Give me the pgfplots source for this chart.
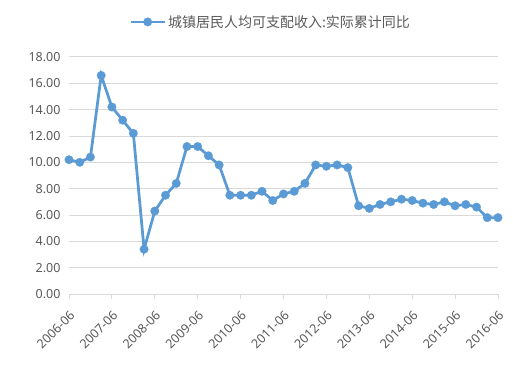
\documentclass[border=0pt]{standalone}
\usepackage{fontspec}
\setmainfont{Noto Sans}
\newfontfamily\cjk{Noto Sans CJK SC}
\usepackage{pgfplots}
\pgfplotsset{compat=1.18}
\definecolor{lineblue}{HTML}{5B9BD5}
\definecolor{txt}{HTML}{595959}
\definecolor{gridc}{HTML}{D9D9D9}
\begin{document}
\begin{tikzpicture}[x=1pt,y=1pt]
\path[use as bounding box] (-69,-73) rectangle (444,294);
\begin{axis}[at={(0,0)}, anchor=south west, scale only axis,
  width=429pt, height=237pt,
  xmin=0, xmax=40, ymin=0, ymax=18, clip=false,
  axis x line*=bottom, axis y line*=left,
  y axis line style={draw=none},
  x axis line style={draw=gridc, line width=1pt, -},
  xtick={0,4,...,40},
  xticklabels={2006-06,2007-06,2008-06,2009-06,2010-06,2011-06,2012-06,2013-06,2014-06,2015-06,2016-06},
  ytick={0,2,...,18},
  ymajorgrids, grid style={draw=gridc, line width=1pt},
  tick align=outside, major tick length=5pt,
  xtick style={draw=gridc, line width=1pt},
  ytick style={draw=none},
  /pgf/number format/assume math mode=true,
  yticklabel style={/pgf/number format/.cd, fixed, fixed zerofill, precision=2},
  ticklabel style={font=\fontsize{12.5}{14}\selectfont, text=txt},
  xticklabel style={rotate=45, anchor=north east},
  xticklabel shift=6pt,
  legend style={at={(0.47,1.148)}, anchor=center, draw=none, fill=none,
    font=\cjk\fontsize{14}{16}\selectfont, text=txt},
  legend image code/.code={\draw[mark repeat=2,mark phase=2] plot coordinates {(0pt,0pt) (17pt,0pt) (34pt,0pt)};},
]
\addplot[color=lineblue, line width=2.75pt, mark=*, mark size=4.3pt, mark options={solid, fill=lineblue, draw=lineblue, line width=0.2pt}]
coordinates {
(0,10.2) (1,10.0) (2,10.4) (3,16.6) (4,14.2) (5,13.2) (6,12.2) (7,3.4) (8,6.3) (9,7.5)
(10,8.4) (11,11.2) (12,11.2) (13,10.5) (14,9.8) (15,7.5) (16,7.5) (17,7.5) (18,7.8) (19,7.1)
(20,7.6) (21,7.8) (22,8.4) (23,9.8) (24,9.7) (25,9.8) (26,9.6) (27,6.7) (28,6.5) (29,6.8)
(30,7.0) (31,7.2) (32,7.1) (33,6.9) (34,6.8) (35,7.0) (36,6.7) (37,6.8) (38,6.6) (39,5.8) (40,5.8)
};
\addlegendentry{城镇居民人均可支配收入:实际累计同比}
\end{axis}
\end{tikzpicture}
\end{document}
